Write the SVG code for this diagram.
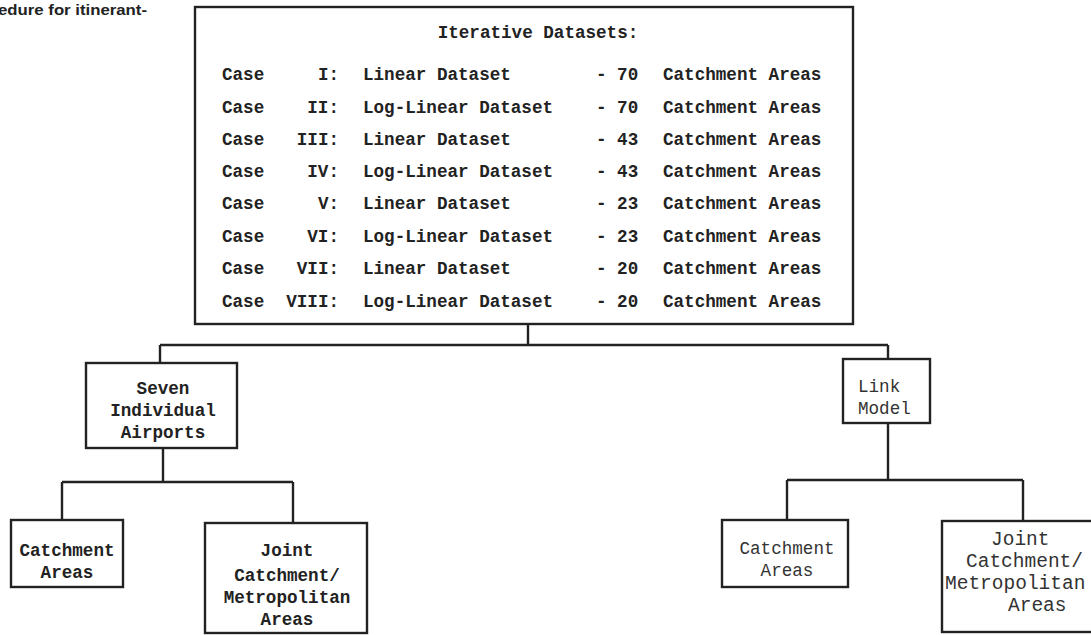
<svg xmlns="http://www.w3.org/2000/svg" width="1091" height="635" viewBox="0 0 1091 635">
<style>
.box{fill:#fff;stroke:#222;stroke-width:2.4}
.ln{fill:none;stroke:#222;stroke-width:2.4}
.t{font-family:"Liberation Mono","DejaVu Sans Mono",monospace;font-size:17.6px;fill:#222;font-weight:bold}
.tl{font-family:"Liberation Mono","DejaVu Sans Mono",monospace;font-size:17.6px;fill:#333}
.tb{font-family:"Liberation Mono","DejaVu Sans Mono",monospace;font-size:19.5px;fill:#333}
.c{text-anchor:middle}
.e{text-anchor:end}
.cap{font-family:"Liberation Sans",Arial,sans-serif;font-size:14px;font-weight:bold;fill:#222}
</style>
<rect width="1091" height="635" fill="#fff"/>
<text class="cap" x="-2" y="15" textLength="149" lengthAdjust="spacingAndGlyphs">edure for itinerant-</text>
<g id="connectors">
<path class="ln" d="M528,324 V345 M160,345 H888 M160,345 V363 M888,345 V359"/>
<path class="ln" d="M163,448 V482 M62,482 H293 M62,482 V520 M293,482 V523"/>
<path class="ln" d="M888,423 V480 M787,480 H1023 M787,480 V520 M1023,480 V521"/>
</g>
<g id="datasets">
<rect class="box" x="195" y="7" width="658" height="317"/>
<text class="t c" x="538" y="38">Iterative Datasets:</text>
<g class="t">
<text x="222" y="80">Case</text><text class="e" x="339" y="80">I:</text><text x="363" y="80">Linear Dataset</text><text x="596" y="80">- 70</text><text x="663" y="80">Catchment Areas</text>
<text x="222" y="113">Case</text><text class="e" x="339" y="113">II:</text><text x="363" y="113">Log-Linear Dataset</text><text x="596" y="113">- 70</text><text x="663" y="113">Catchment Areas</text>
<text x="222" y="145">Case</text><text class="e" x="339" y="145">III:</text><text x="363" y="145">Linear Dataset</text><text x="596" y="145">- 43</text><text x="663" y="145">Catchment Areas</text>
<text x="222" y="177">Case</text><text class="e" x="339" y="177">IV:</text><text x="363" y="177">Log-Linear Dataset</text><text x="596" y="177">- 43</text><text x="663" y="177">Catchment Areas</text>
<text x="222" y="209">Case</text><text class="e" x="339" y="209">V:</text><text x="363" y="209">Linear Dataset</text><text x="596" y="209">- 23</text><text x="663" y="209">Catchment Areas</text>
<text x="222" y="242">Case</text><text class="e" x="339" y="242">VI:</text><text x="363" y="242">Log-Linear Dataset</text><text x="596" y="242">- 23</text><text x="663" y="242">Catchment Areas</text>
<text x="222" y="274">Case</text><text class="e" x="339" y="274">VII:</text><text x="363" y="274">Linear Dataset</text><text x="596" y="274">- 20</text><text x="663" y="274">Catchment Areas</text>
<text x="222" y="307">Case</text><text class="e" x="339" y="307">VIII:</text><text x="363" y="307">Log-Linear Dataset</text><text x="596" y="307">- 20</text><text x="663" y="307">Catchment Areas</text>
</g>
</g>
<g id="airports">
<rect class="box" x="86" y="363" width="151" height="85"/>
<text class="t c" x="163" y="394">Seven</text>
<text class="t c" x="163" y="416">Individual</text>
<text class="t c" x="163" y="438">Airports</text>
</g>
<g id="link-model">
<rect class="box" x="843" y="359" width="87" height="64"/>
<text class="tl" x="858" y="392">Link</text>
<text class="tl" x="858" y="414">Model</text>
</g>
<g id="left-catchment">
<rect class="box" x="11" y="520" width="112" height="67"/>
<text class="t c" x="67" y="556">Catchment</text>
<text class="t c" x="67" y="578">Areas</text>
</g>
<g id="left-joint">
<rect class="box" x="205" y="523" width="162" height="110"/>
<text class="t c" x="287" y="556">Joint</text>
<text class="t c" x="287" y="581">Catchment/</text>
<text class="t c" x="287" y="603">Metropolitan</text>
<text class="t c" x="287" y="625">Areas</text>
</g>
<g id="right-catchment">
<rect class="box" x="722" y="520" width="126" height="67"/>
<text class="tl c" x="787" y="554">Catchment</text>
<text class="tl c" x="787" y="576">Areas</text>
</g>
<g id="right-joint">
<rect class="box" x="942" y="521" width="151" height="111"/>
<text class="tb" x="991" y="545">Joint</text>
<text class="tb" x="966" y="567">Catchment/</text>
<text class="tb" x="945" y="589">Metropolitan</text>
<text class="tb" x="1008" y="611">Areas</text>
</g>
</svg>
